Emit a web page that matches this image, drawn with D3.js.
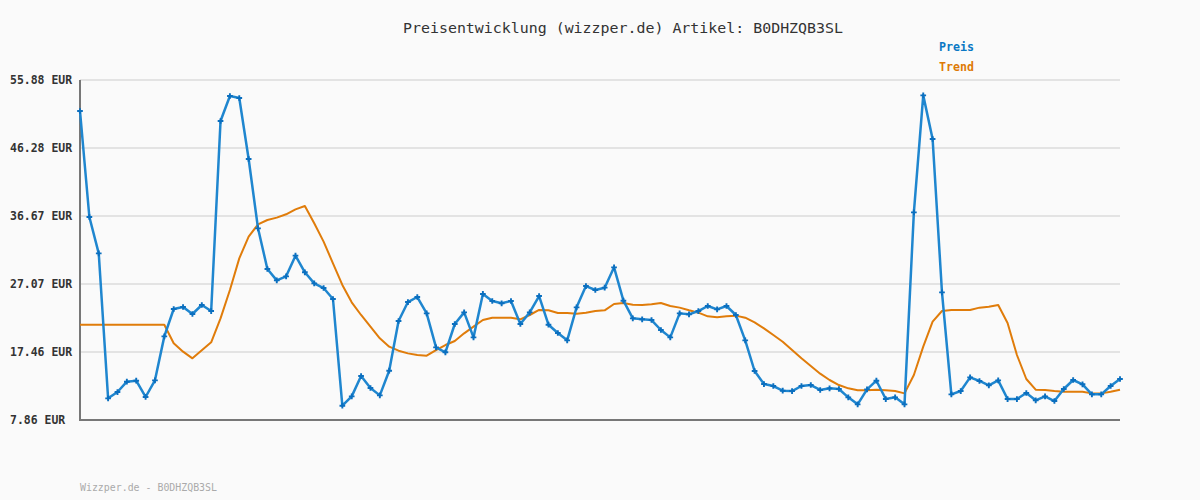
<!DOCTYPE html>
<html>
<head>
<meta charset="utf-8">
<script src="https://cdn.jsdelivr.net/npm/d3@7"></script>
<style>
  html, body { margin: 0; padding: 0; background: #fafafa; }
  svg { display: block; }
</style>
</head>
<body>
<svg id="chart" width="1200" height="500"></svg>
<script>
const titleText = "Preisentwicklung (wizzper.de) Artikel: B0DHZQB3SL";
const footerText = "Wizzper.de - B0DHZQB3SL";
const seriesNames = ["Preis", "Trend"];
const tickValues = [7.86, 17.46, 27.07, 36.67, 46.28, 55.88];
const tickLabels = ["7.86 EUR", "17.46 EUR", "27.07 EUR", "36.67 EUR", "46.28 EUR", "55.88 EUR"];

const preis = [
  51.50, 36.53, 31.40, 10.92, 11.81, 13.27, 13.41, 11.11, 13.46, 19.67,
  23.54, 23.82, 22.83, 24.10, 23.25, 50.09, 53.62, 53.34, 44.72, 34.93,
  29.19, 27.58, 28.15, 31.07, 28.72, 27.16, 26.50, 24.95, 9.88, 11.20,
  14.07, 12.38, 11.34, 14.82, 21.84, 24.52, 25.23, 22.92, 18.12, 17.42,
  21.42, 23.06, 19.53, 25.66, 24.67, 24.34, 24.67, 21.42, 23.06, 25.37,
  21.32, 20.15, 19.11, 23.77, 26.78, 26.22, 26.55, 29.42, 24.71, 22.22,
  22.08, 21.98, 20.57, 19.53, 22.92, 22.78, 23.25, 23.96, 23.49, 23.96,
  22.69, 19.11, 14.78, 12.94, 12.66, 12.00, 11.95, 12.66, 12.80, 12.10,
  12.33, 12.24, 11.06, 10.07, 12.19, 13.41, 10.82, 11.06, 10.07, 37.19,
  53.71, 47.55, 25.89, 11.48, 11.95, 13.88, 13.37, 12.76, 13.46, 10.82,
  10.82, 11.67, 10.64, 11.20, 10.54, 12.24, 13.51, 12.90, 11.48, 11.48,
  12.66, 13.65
];

const trend = [
  21.32, 21.32, 21.32, 21.32, 21.32, 21.32, 21.32, 21.32, 21.32, 21.32,
  18.69, 17.51, 16.57, 17.70, 18.83, 22.22, 26.22, 30.69, 33.75, 35.49,
  36.11, 36.44, 36.91, 37.61, 38.08, 35.64, 33.05, 29.99, 26.93, 24.48,
  22.69, 21.04, 19.39, 18.22, 17.65, 17.27, 17.04, 16.94, 17.74, 18.45,
  19.02, 20.10, 21.04, 21.98, 22.31, 22.31, 22.31, 22.08, 22.69, 23.40,
  23.35, 22.97, 22.97, 22.88, 23.02, 23.25, 23.35, 24.24, 24.38, 24.15,
  24.10, 24.20, 24.38, 23.96, 23.73, 23.35, 23.02, 22.50, 22.36, 22.50,
  22.60, 22.31, 21.65, 20.80, 19.86, 18.92, 17.74, 16.57, 15.49, 14.40,
  13.51, 12.80, 12.33, 12.05, 12.05, 12.14, 12.05, 11.95, 11.62, 14.21,
  18.22, 21.75, 23.25, 23.40, 23.40, 23.40, 23.73, 23.87, 24.10, 21.56,
  17.04, 13.65, 12.14, 12.10, 11.95, 11.86, 11.86, 11.86, 11.62, 11.62,
  11.86, 12.14
];

const colors = { preis: "#1f86cf", marker: "#0b6fbf", trend: "#e07c0a", legendPreis: "#0a78c4", legendTrend: "#de7a06" };

const svg = d3.select("#chart");
const plotLeft = 80, plotRight = 1120, plotTop = 80, plotBottom = 420;

const x = d3.scaleLinear().domain([0, preis.length - 1]).range([plotLeft, plotRight]);
const y = d3.scaleLinear().domain([7.86, 55.88]).range([plotBottom, plotTop]);

svg.append("rect").attr("width", 1200).attr("height", 500).attr("fill", "#fafafa");

// gridlines
svg.append("g").selectAll("line").data(tickValues.slice(1)).join("line")
  .attr("x1", plotLeft).attr("x2", plotRight)
  .attr("y1", d => y(d)).attr("y2", d => y(d))
  .attr("stroke", "#e3e3e3").attr("stroke-width", 2);

// y tick labels (left aligned)
svg.append("g").selectAll("text").data(tickValues).join("text")
  .attr("x", 10).attr("y", d => y(d) + 4)
  .attr("font-family", "DejaVu Sans Mono, monospace")
  .attr("font-size", 11.5).attr("font-weight", "bold").attr("fill", "#333")
  .attr("textLength", (d, i) => tickLabels[i].length * 6.9)
  .attr("lengthAdjust", "spacingAndGlyphs")
  .text((d, i) => tickLabels[i]);

// axes
svg.append("line").attr("x1", plotLeft).attr("x2", plotLeft).attr("y1", plotTop).attr("y2", plotBottom + 1)
  .attr("stroke", "#777").attr("stroke-width", 2);
svg.append("line").attr("x1", plotLeft - 1).attr("x2", plotRight).attr("y1", plotBottom).attr("y2", plotBottom)
  .attr("stroke", "#777").attr("stroke-width", 2);

// trend line
const line = d3.line().x((d, i) => x(i)).y(d => y(d));
svg.append("path").datum(trend).attr("d", line)
  .attr("fill", "none").attr("stroke", colors.trend).attr("stroke-width", 2)
  .attr("stroke-linejoin", "round");

// price line
svg.append("path").datum(preis).attr("d", line)
  .attr("fill", "none").attr("stroke", colors.preis).attr("stroke-width", 2.5)
  .attr("stroke-linejoin", "round");

// markers
const sym = d3.symbol().type(d3.symbolCross).size(18);
svg.append("g").selectAll("path").data(preis).join("path")
  .attr("d", sym)
  .attr("transform", (d, i) => `translate(${x(i)},${y(d)})`)
  .attr("fill", colors.marker);

// title
svg.append("text").attr("x", 403).attr("y", 33)
  .attr("font-family", "DejaVu Sans Mono, monospace").attr("font-size", 13.5)
  .attr("fill", "#333")
  .attr("textLength", 440).attr("lengthAdjust", "spacingAndGlyphs")
  .text(titleText);

// legend
svg.append("text").attr("x", 939).attr("y", 51)
  .attr("font-family", "DejaVu Sans Mono, monospace").attr("font-size", 11.5)
  .attr("font-weight", "bold").attr("fill", colors.legendPreis)
  .attr("textLength", 35).attr("lengthAdjust", "spacingAndGlyphs")
  .text(seriesNames[0]);
svg.append("text").attr("x", 939).attr("y", 71)
  .attr("font-family", "DejaVu Sans Mono, monospace").attr("font-size", 11.5)
  .attr("font-weight", "bold").attr("fill", colors.legendTrend)
  .attr("textLength", 35).attr("lengthAdjust", "spacingAndGlyphs")
  .text(seriesNames[1]);

// footer
svg.append("text").attr("x", 80).attr("y", 491)
  .attr("font-family", "DejaVu Sans Mono, monospace").attr("font-size", 10.5)
  .attr("fill", "#aaa")
  .attr("textLength", 137).attr("lengthAdjust", "spacingAndGlyphs")
  .text(footerText);
</script>
</body>
</html>
